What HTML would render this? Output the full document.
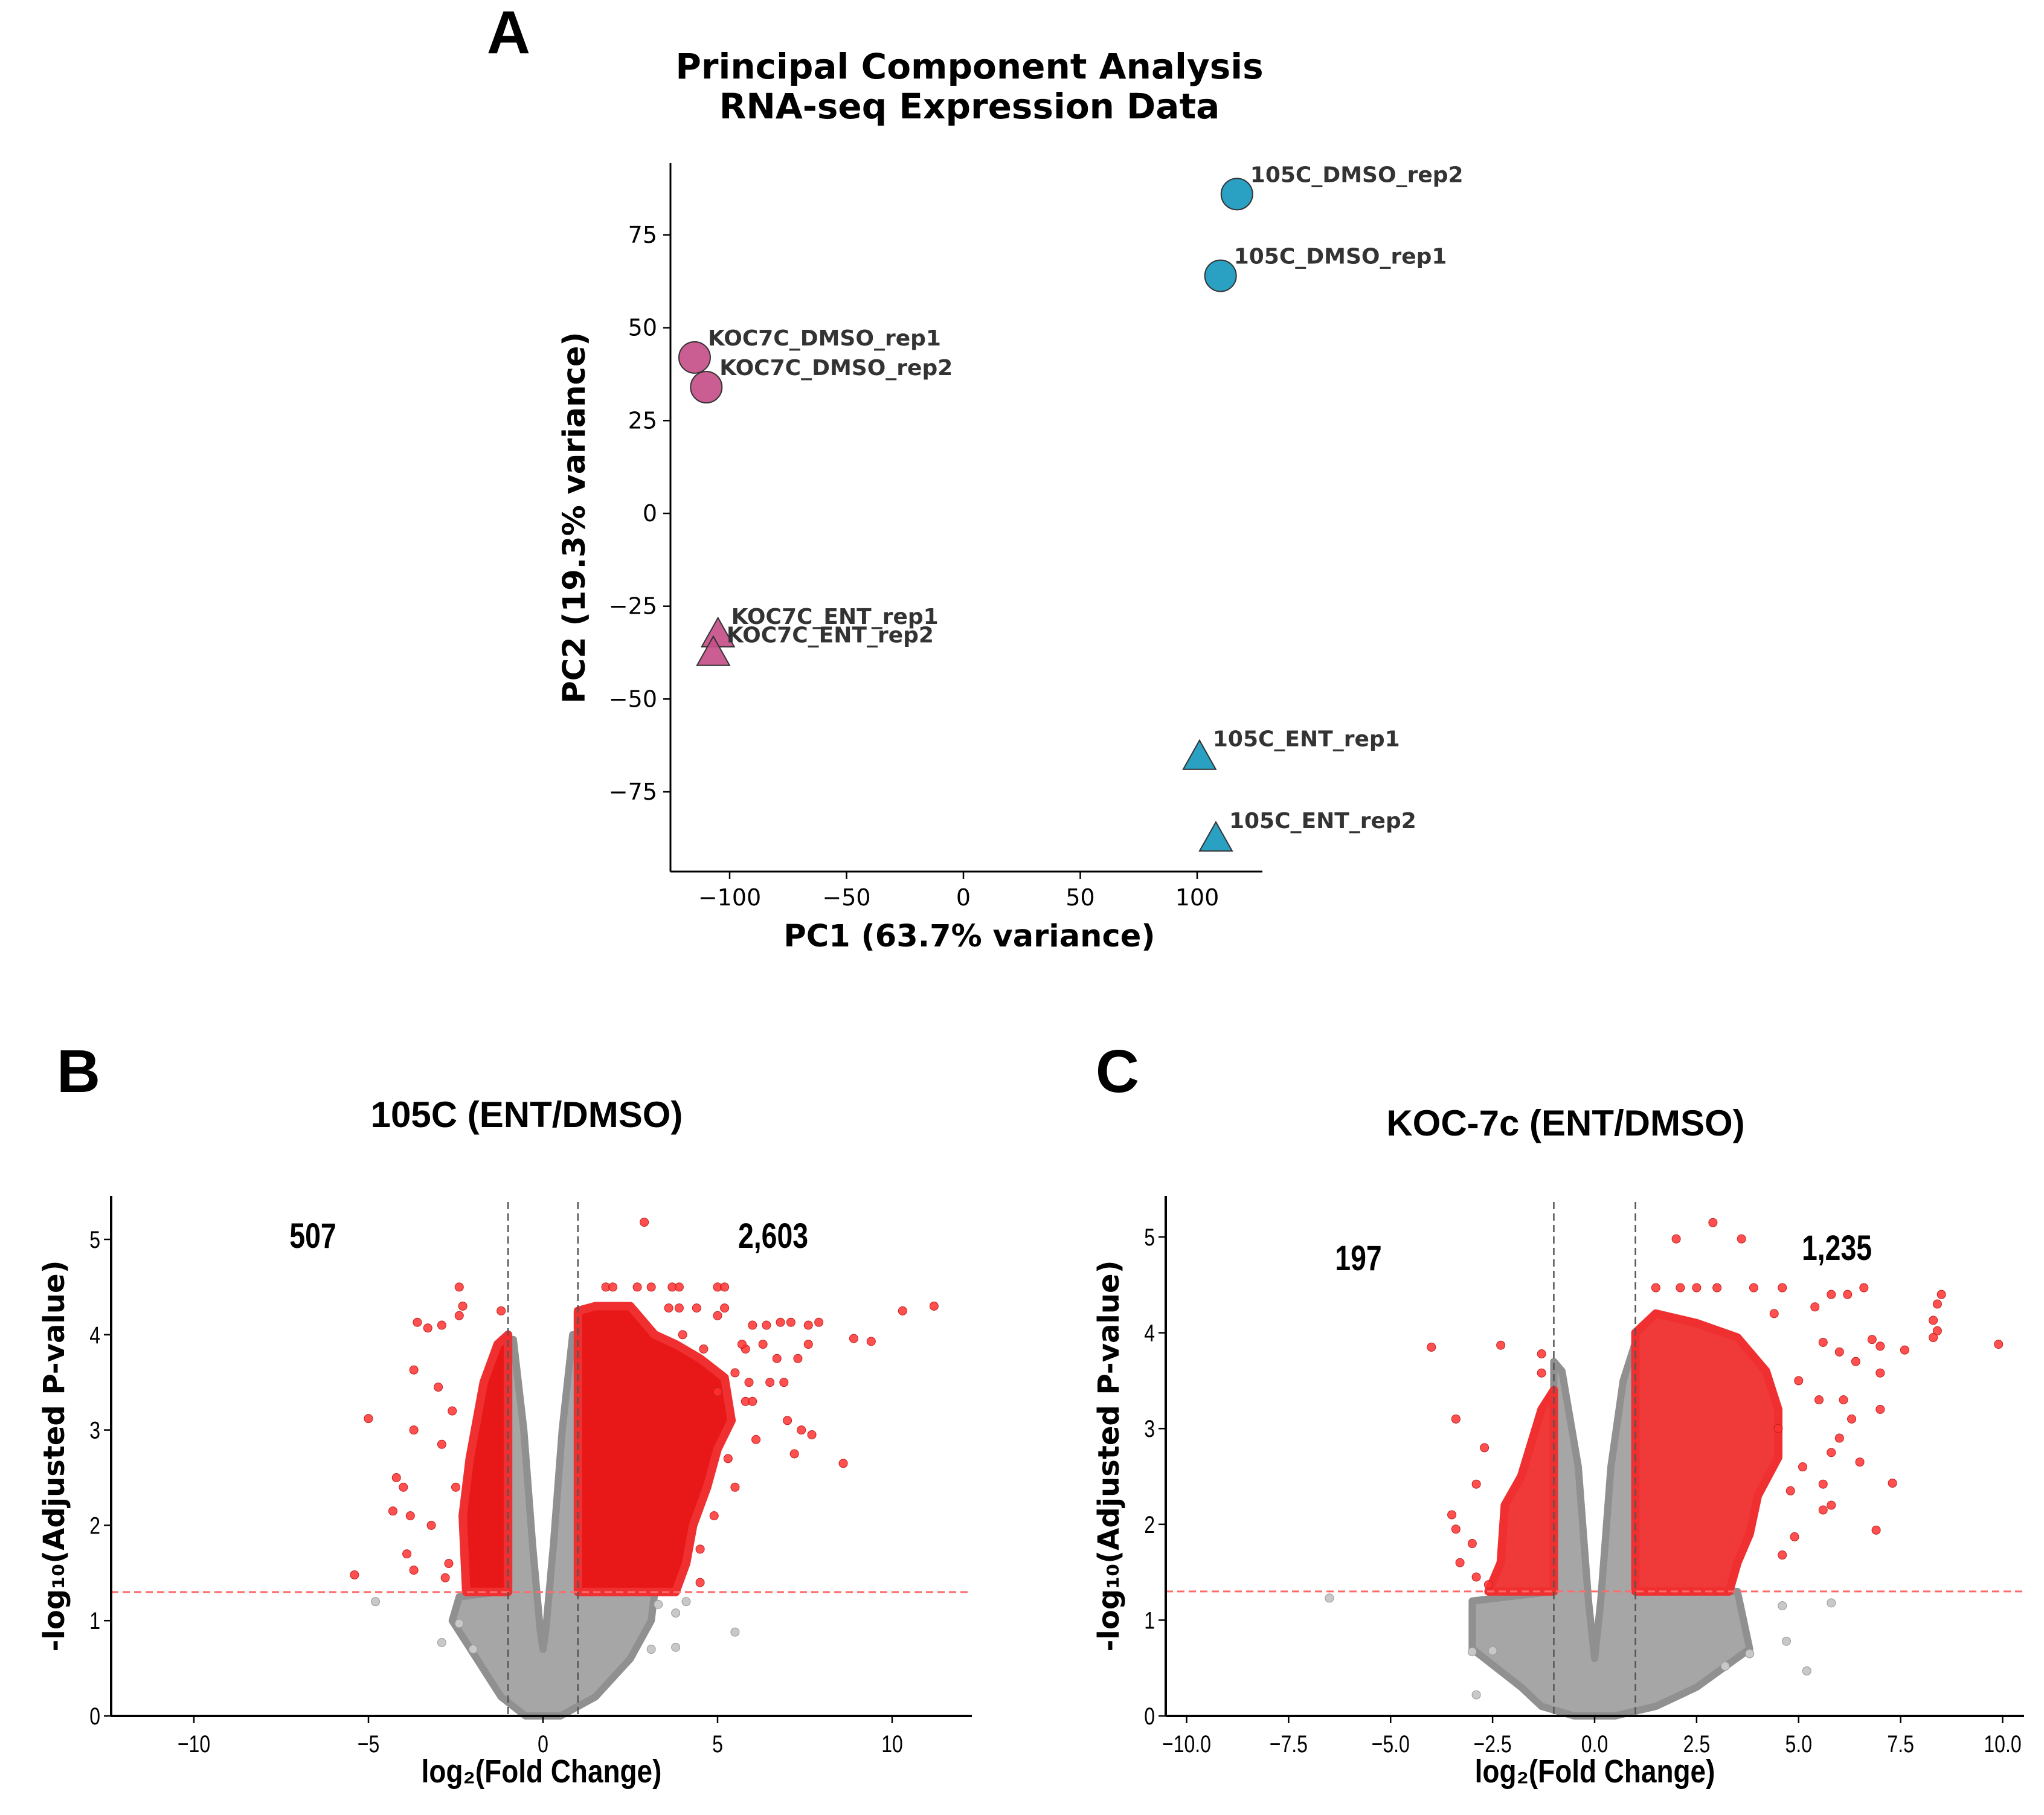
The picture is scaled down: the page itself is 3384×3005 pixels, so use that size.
<!DOCTYPE html>
<html><head><meta charset="utf-8"><style>
html,body{margin:0;padding:0;background:#fff;}
svg{display:block;font-family:"Liberation Sans",sans-serif;}
.dv{font-family:"DejaVu Sans","Liberation Sans",sans-serif;}
</style></head><body>
<svg id="fig" width="3384" height="3005" viewBox="0 0 3384 3005" xmlns="http://www.w3.org/2000/svg">
<text x="842" y="88" font-size="100" font-weight="bold" text-anchor="middle">A</text>
<text class="dv" x="1605" y="130" font-size="58" font-weight="bold" text-anchor="middle">Principal Component Analysis</text>
<text class="dv" x="1605" y="196" font-size="58" font-weight="bold" text-anchor="middle">RNA-seq Expression Data</text>
<text x="130" y="1808" font-size="100" font-weight="bold" text-anchor="middle">B</text>
<text x="1850" y="1808" font-size="100" font-weight="bold" text-anchor="middle">C</text>
<text x="872" y="1866" font-size="60" font-weight="bold" text-anchor="middle">105C (ENT/DMSO)</text>
<text x="2592" y="1880" font-size="60" font-weight="bold" text-anchor="middle">KOC-7c (ENT/DMSO)</text>
<g id="pca"></g><g id="volB"></g><g id="volC"></g>
</svg>
<script>
// PCA data
const pcaNames=["KOC7C_DMSO_rep1","KOC7C_DMSO_rep2","KOC7C_ENT_rep1","KOC7C_ENT_rep2","105C_DMSO_rep1","105C_DMSO_rep2","105C_ENT_rep1","105C_ENT_rep2"];
const pcaX=[-115,-110,-105,-107,110,117,101,108];
const pcaY=[42,34,-33,-38,64,86,-66,-88];
const pcaShape=["circle","circle","triangle","triangle","circle","circle","triangle","triangle"];
const pcaGroup=["koc","koc","koc","koc","c105","c105","c105","c105"];
const pcaXTicks=[-100,-50,0,50,100];
const pcaYTicks=[-75,-50,-25,0,25,50,75];

// Volcano B data
const bCountDown="507", bCountUp="2,603";
const bXTicks=[-10,-5,0,5,10];
const bYTicks=[0,1,2,3,4,5];
const bRedUp=[[1,1.3],[1,4.25],[1.5,4.3],[2.5,4.3],[3.2,4.0],[3.8,3.9],[4.5,3.75],[5.2,3.55],[5.4,3.1],[5.0,2.8],[4.7,2.4],[4.3,2.0],[4.1,1.6],[3.8,1.3]];
const bRedDown=[[-1,1.3],[-1,4.0],[-1.3,3.9],[-1.7,3.5],[-2.1,2.7],[-2.3,2.1],[-2.2,1.3]];
const bGray=[[-0.85,3.95],[-1,3.9],[-1,1.3],[-1.3,1.3],[-2.4,1.25],[-2.6,1.0],[-1.9,0.6],[-1.2,0.2],[-0.5,0],[0.5,0],[1.5,0.2],[2.5,0.6],[3.1,1.0],[3.2,1.3],[1,1.3],[1,3.95],[0.85,4.0],[0.55,3.0],[0.3,1.8],[0.08,0.9],[0,0.7],[-0.08,0.9],[-0.3,1.8],[-0.55,3.0]];
const bRedPts=[[2.9,5.18],[-2.4,4.5],[-2.3,4.3],[-2.4,4.2],[-3.6,4.13],[-3.3,4.07],[-2.9,4.1],[-1.2,4.25],[-5.0,3.12],[-3.7,3.0],[-3.7,3.63],[-4.0,2.4],[-4.2,2.5],[-4.3,2.15],[-3.8,2.1],[-3.9,1.7],[-3.7,1.53],[-5.4,1.48],[-2.9,2.85],[-3.0,3.45],[-2.6,3.2],[-3.2,2.0],[-2.5,2.4],[-2.8,1.45],[-2.7,1.6],[10.3,4.25],[11.2,4.3],[8.9,3.96],[9.4,3.93],[8.6,2.65],[7.2,2.75],[7.7,2.95],[7.4,3.0],[7.0,3.1],[6.9,3.5],[7.3,3.75],[7.6,4.1],[7.9,4.13],[7.6,3.9],[6.8,4.13],[7.1,4.13],[6.4,4.1],[6.3,3.9],[6.7,3.75],[6.5,3.5],[5.8,3.3],[6.1,2.9],[5.3,2.7],[5.5,2.4],[4.9,2.1],[4.5,1.75],[4.5,1.4],[5.0,4.5],[5.2,4.5],[5.2,4.28],[3.7,4.5],[3.9,4.5],[3.1,4.5],[2.7,4.5],[1.8,4.5],[2.0,4.5],[3.6,4.28],[3.9,4.28],[4.4,4.28],[5.0,4.2],[4.0,4.0],[4.6,3.85],[5.8,3.85],[5.5,3.6],[5.0,3.4],[6.0,4.1],[5.7,3.9],[5.9,3.5],[6.0,3.3]];
const bGrayPts=[[-4.8,1.2],[5.5,0.88],[3.8,0.72],[3.1,0.7],[-2.9,0.77],[-2.4,0.97],[4.1,1.2],[3.8,1.08],[3.3,1.17],[-2.0,0.7]];

// Volcano C data
const cCountDown="197", cCountUp="1,235";
const cXTicks=[-10,-7.5,-5,-2.5,0,2.5,5,7.5,10];
const cYTicks=[0,1,2,3,4,5];
const cRedUp=[[1,1.3],[1,4.0],[1.5,4.2],[2.5,4.1],[3.5,3.95],[4.2,3.6],[4.5,3.2],[4.5,2.7],[4.0,2.3],[3.8,1.9],[3.5,1.6],[3.3,1.3]];
const cRedDown=[[-1,1.3],[-1,3.4],[-1.3,3.2],[-1.8,2.5],[-2.2,2.2],[-2.3,1.6],[-2.6,1.3]];
const cGray=[[-0.8,3.6],[-1,3.7],[-1,1.3],[-3.0,1.2],[-3.0,0.7],[-1.8,0.3],[-1.3,0.1],[-0.5,0],[0.5,0],[1.5,0.1],[2.5,0.3],[3.8,0.7],[3.5,1.3],[1,1.3],[1,3.9],[0.7,3.5],[0.4,2.6],[0.15,1.2],[0,0.6],[-0.15,1.2],[-0.4,2.6]];
const cRedPts=[[2.9,5.15],[2.0,4.98],[3.6,4.98],[-4.0,3.85],[-2.3,3.87],[-1.3,3.78],[-1.3,3.58],[-3.4,3.1],[-2.7,2.8],[-2.9,2.42],[-3.5,2.1],[-3.4,1.95],[-3.0,1.8],[-3.3,1.6],[-2.9,1.45],[-2.6,1.37],[9.9,3.88],[8.5,4.4],[8.4,4.3],[8.3,4.13],[8.4,4.02],[8.3,3.95],[7.6,3.82],[7.0,3.86],[6.6,4.47],[6.2,4.4],[5.8,4.4],[5.4,4.27],[4.6,4.47],[3.9,4.47],[3.0,4.47],[2.5,4.47],[2.1,4.47],[1.5,4.47],[6.8,3.93],[7.3,2.43],[6.9,1.94],[7.0,3.2],[7.0,3.58],[6.5,2.65],[5.8,2.2],[5.6,2.15],[5.6,2.42],[4.9,1.87],[4.6,1.68],[4.8,2.35],[6.4,3.7],[6.0,3.8],[5.6,3.9],[6.1,3.3],[5.5,3.3],[6.3,3.1],[6.0,2.9],[5.8,2.75],[5.1,2.6],[4.5,3.0],[5.0,3.5],[4.4,4.2]];
const cGrayPts=[[-6.5,1.23],[5.8,1.18],[4.6,1.15],[4.7,0.78],[5.2,0.47],[3.8,0.65],[-2.9,0.22],[-3.0,0.67],[-2.5,0.68],[3.2,0.52]];

const NS="http://www.w3.org/2000/svg";
function mk(parent,tag,attrs,txt){const e=document.createElementNS(NS,tag);for(const k in attrs)e.setAttribute(k,attrs[k]);if(txt!==undefined)e.textContent=txt;parent.appendChild(e);return e;}
function fmt(v){return (v<0?"\u2212":"")+Math.abs(v);}

// ---- PCA ----
(function(){
const g=document.getElementById('pca');
const X0=1595,XS=3.87,Y0=850,YS=6.147;
const sx=v=>X0+v*XS, sy=v=>Y0-v*YS;
const L=1110,R=2090,T=270,B=1443;
let ax=mk(g,'line',{x1:L,y1:B,x2:R,y2:B,stroke:'#000','stroke-width':3});


ax=mk(g,'line',{x1:L,y1:T,x2:L,y2:B,stroke:'#000','stroke-width':3});


pcaXTicks.forEach(v=>{mk(g,'line',{x1:sx(v),y1:B,x2:sx(v),y2:B+12,stroke:'#000','stroke-width':2.5});
 const t=mk(g,'text',{class:'dv',x:sx(v),y:B+56,'font-size':38,'text-anchor':'middle'},fmt(v));
 
 });
pcaYTicks.forEach(v=>{mk(g,'line',{x1:L-12,y1:sy(v),x2:L,y2:sy(v),stroke:'#000','stroke-width':2.5});
 const t=mk(g,'text',{class:'dv',x:L-22,y:sy(v)+13,'font-size':38,'text-anchor':'end'},fmt(v));
 
 });
let t=mk(g,'text',{class:'dv',x:1605,y:1567,'font-size':51,'font-weight':'bold','text-anchor':'middle'},'PC1 (63.7% variance)');


t=mk(g,'text',{class:'dv',x:0,y:0,'font-size':51,'font-weight':'bold','text-anchor':'middle',transform:'translate(968,857) rotate(-90)'},'PC2 (19.3% variance)');


pcaNames.forEach((n,i)=>{
 const cx=sx(pcaX[i]),cy=sy(pcaY[i]);
 const col=pcaGroup[i]==='koc'?'#c64f88':'#1898bd';
 let m;
 if(pcaShape[i]==='circle') m=mk(g,'circle',{cx:cx,cy:cy,r:26,fill:col,stroke:'#333','stroke-width':2,'fill-opacity':0.92});
 else m=mk(g,'polygon',{points:`${cx},${cy-30} ${cx-27},${cy+18} ${cx+27},${cy+18}`,fill:col,stroke:'#333','stroke-width':2,'fill-opacity':0.92});
 
 
 const lb=mk(g,'text',{class:'dv',x:cx+22,y:cy-20,'font-size':36,'font-weight':'bold',fill:'#333'},n);
 
 
});
})();

// ---- Volcano ----
function volcano(id,cfg){
const g=document.getElementById(id);
const sx=v=>cfg.x0+v*cfg.xs, sy=v=>cfg.y0-v*cfg.ys;
const {L,R,T,B}=cfg;
const poly=(arr)=>arr.map(p=>sx(p[0])+','+sy(p[1])).join(' ');
let p=mk(g,'polygon',{points:poly(cfg.gray),fill:'#a6a6a6',stroke:'#909090','stroke-width':12,'stroke-linejoin':'round'});


cfg.grayPts.forEach(q=>{const c=mk(g,'circle',{cx:sx(q[0]),cy:sy(q[1]),r:7,fill:'#c8c8c8',stroke:'#999','stroke-width':1});
 
 });
p=mk(g,'polygon',{points:poly(cfg.redUp),fill:cfg.redFill,stroke:'#f03030','stroke-width':14,'stroke-linejoin':'round'});


p=mk(g,'polygon',{points:poly(cfg.redDown),fill:cfg.redFill,stroke:'#f03030','stroke-width':14,'stroke-linejoin':'round'});


cfg.redPts.forEach(q=>{const c=mk(g,'circle',{cx:sx(q[0]),cy:sy(q[1]),r:7,fill:'#ff3030',stroke:'#c02020','stroke-width':1,'fill-opacity':0.85});
 
 });
let l=mk(g,'line',{x1:L,y1:sy(1.3),x2:R,y2:sy(1.3),stroke:'#ff6b6b','stroke-width':3,'stroke-dasharray':'12,7'});


[-1,1].forEach(v=>{const d=mk(g,'line',{x1:sx(v),y1:T+10,x2:sx(v),y2:B,stroke:'#555','stroke-width':2.5,'stroke-dasharray':'12,7'});
 
 });
let ax=mk(g,'line',{x1:L,y1:B,x2:R,y2:B,stroke:'#000','stroke-width':4});


ax=mk(g,'line',{x1:L,y1:T,x2:L,y2:B,stroke:'#000','stroke-width':4});


cfg.xt.forEach(v=>{mk(g,'line',{x1:sx(v),y1:B,x2:sx(v),y2:B+12,stroke:'#000','stroke-width':2.5});
 const t=mk(g,'text',{x:0,y:0,'font-size':40,'text-anchor':'middle',transform:`translate(${sx(v)},${B+60}) scale(0.8,1)`},(v<0?"\u2212":"")+(cfg.dec?Math.abs(v).toFixed(1):Math.abs(v)));
 
 });
cfg.yt.forEach(v=>{mk(g,'line',{x1:L-12,y1:sy(v),x2:L,y2:sy(v),stroke:'#000','stroke-width':2.5});
 const t=mk(g,'text',{x:0,y:0,'font-size':40,'text-anchor':'end',transform:`translate(${L-18},${sy(v)+14}) scale(0.8,1)`},String(v));
 
 });
let t=mk(g,'text',{x:0,y:0,'font-size':54,'font-weight':'bold','text-anchor':'middle',transform:`translate(${(L+R)/2},${B+110}) scale(0.85,1)`},'log\u2082(Fold Change)');


t=mk(g,'text',{class:'dv',x:0,y:0,'font-size':48,'font-weight':'bold','text-anchor':'middle',transform:`translate(${L-78},${(T+B)/2}) rotate(-90)`},'-log\u2081\u2080(Adjusted P-value)');


t=mk(g,'text',{x:0,y:0,'font-size':58,'font-weight':'bold','text-anchor':'middle',transform:`translate(${cfg.dnPos[0]},${cfg.dnPos[1]}) scale(0.8,1)`},cfg.dn);


t=mk(g,'text',{x:0,y:0,'font-size':58,'font-weight':'bold','text-anchor':'middle',transform:`translate(${cfg.upPos[0]},${cfg.upPos[1]}) scale(0.8,1)`},cfg.up);


}
volcano('volB',{x0:899,xs:57.8,y0:2841,ys:157.8,L:184,R:1609,T:1980,B:2841,xt:bXTicks,yt:bYTicks,dec:false,
 gray:bGray,grayPts:bGrayPts,redUp:bRedUp,redDown:bRedDown,redPts:bRedPts,redFill:'#e81818',
 dn:bCountDown,up:bCountUp,dnPos:[518,2066],upPos:[1280,2066]});
volcano('volC',{x0:2640,xs:67.55,y0:2841,ys:158.6,L:1930,R:3351,T:1980,B:2841,xt:cXTicks,yt:cYTicks,dec:true,
 gray:cGray,grayPts:cGrayPts,redUp:cRedUp,redDown:cRedDown,redPts:cRedPts,redFill:'#f03a3a',
 dn:cCountDown,up:cCountUp,dnPos:[2249,2103],upPos:[3041,2086]});
</script>
</body></html>
